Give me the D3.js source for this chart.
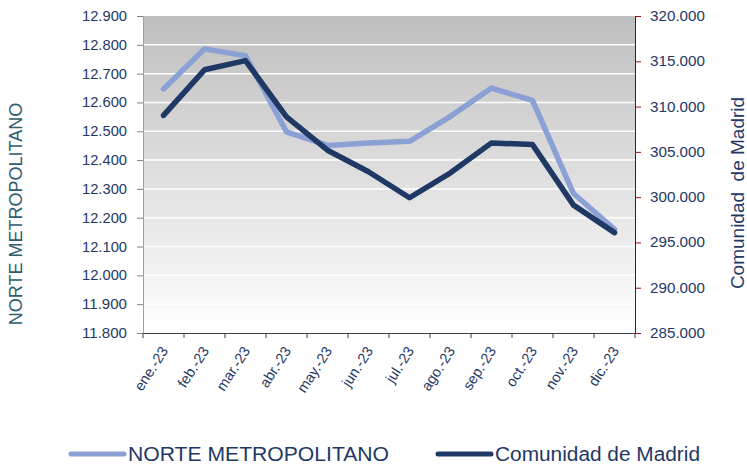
<!DOCTYPE html>
<html>
<head>
<meta charset="utf-8">
<script src="https://cdn.jsdelivr.net/npm/d3@7"></script>
<style>
  body { margin: 0; background: #fff; }
  text { font-family: "Liberation Sans", Arial, sans-serif; }
</style>
</head>
<body>
<svg id="chart" width="747" height="468"></svg>
<script>
var months = ["ene.-23", "feb.-23", "mar.-23", "abr.-23", "may.-23", "jun.-23",
              "jul.-23", "ago.-23", "sep.-23", "oct.-23", "nov.-23", "dic.-23"];
var norteValues = [12647, 12786, 12762, 12498, 12451, 12459, 12465, 12552, 12650, 12607, 12284, 12160];
var madridValues = [309030, 314060, 315080, 308850, 305180, 302800, 299930, 302690, 305990, 305800, 299120, 296080];
var leftTicks = [11800, 11900, 12000, 12100, 12200, 12300, 12400, 12500, 12600, 12700, 12800, 12900];
var rightTicks = [285000, 290000, 295000, 300000, 305000, 310000, 315000, 320000];

var svg = d3.select("#chart");
var pLeft = 143, pRight = 635, pTop = 16, pBottom = 333;

// 12900 -> "12.900", 320000 -> "320.000"
var fmtDots = function (v) { return d3.format(",")(v).replace(/,/g, "."); };

var x = d3.scaleBand().domain(months).range([pLeft, pRight]);
var yL = d3.scaleLinear().domain([11800, 12900]).range([pBottom, pTop]);
var yR = d3.scaleLinear().domain([285000, 320000]).range([pBottom, pTop]);

// plot background gradient
var defs = svg.append("defs");
var grad = defs.append("linearGradient").attr("id", "bg").attr("x1", 0).attr("y1", 0).attr("x2", 0).attr("y2", 1);
grad.append("stop").attr("offset", "0%").attr("stop-color", "#bebebe");
grad.append("stop").attr("offset", "100%").attr("stop-color", "#ffffff");

svg.append("rect")
  .attr("x", pLeft).attr("y", pTop)
  .attr("width", pRight - pLeft).attr("height", pBottom - pTop)
  .attr("fill", "url(#bg)");

// gridlines
svg.append("g").selectAll("line")
  .data(leftTicks.slice(1, -1))
  .enter().append("line")
  .attr("x1", pLeft).attr("x2", pRight)
  .attr("y1", d => yL(d)).attr("y2", d => yL(d))
  .attr("stroke", "#ffffff").attr("stroke-width", 1.5);

// left axis
var gL = svg.append("g").attr("transform", "translate(" + pLeft + ",0)")
  .call(d3.axisLeft(yL).tickValues(leftTicks).tickFormat(fmtDots).tickSize(6).tickSizeOuter(0));
gL.select(".domain").attr("stroke", "#a0a0a0");
gL.selectAll(".tick line").attr("stroke", "#808080");
gL.selectAll("text").attr("fill", "#1f3864").style("font-size", "14px").attr("x", -16)
  .attr("textLength", 45).attr("lengthAdjust", "spacingAndGlyphs");

// right axis
var gR = svg.append("g").attr("transform", "translate(" + pRight + ",0)")
  .call(d3.axisRight(yR).tickValues(rightTicks).tickFormat(fmtDots).tickSize(6).tickSizeOuter(0));
gR.select(".domain").attr("stroke", "#800000");
gR.selectAll(".tick line").attr("stroke", "#a01010");
gR.selectAll("text").attr("fill", "#1f3864").style("font-size", "14px").attr("x", 15)
  .attr("textLength", 55).attr("lengthAdjust", "spacingAndGlyphs");

// bottom axis
var gB = svg.append("g").attr("transform", "translate(0," + pBottom + ")")
  .call(d3.axisBottom(x).tickSize(0));
gB.select(".domain").attr("stroke", "#404040").attr("stroke-width", 1.2);
gB.selectAll(".tick text").remove();
var edges = months.map((m, i) => pLeft + i * x.step()).concat([pRight]);
gB.selectAll(".edge").data(edges).enter().append("line")
  .attr("class", "edge")
  .attr("x1", d => d).attr("x2", d => d).attr("y1", 0).attr("y2", 5)
  .attr("stroke", "#404040");
gB.selectAll(".lbl").data(months).enter().append("text")
  .attr("class", "lbl")
  .attr("transform", d => "translate(" + (x(d) + x.bandwidth() / 2 + 1) + ",15) rotate(-57)")
  .attr("text-anchor", "end")
  .attr("dy", "0.35em")
  .attr("fill", "#1f3864")
  .style("font-size", "14.5px")
  .text(d => d);

// lines
var lineL = d3.line().x((d, i) => x(months[i]) + x.bandwidth() / 2).y(d => yL(d));
var lineR = d3.line().x((d, i) => x(months[i]) + x.bandwidth() / 2).y(d => yR(d));

svg.append("path").datum(norteValues)
  .attr("d", lineL).attr("fill", "none")
  .attr("stroke", "#8ba0d4").attr("stroke-width", 5.5)
  .attr("stroke-linejoin", "round").attr("stroke-linecap", "round");

svg.append("path").datum(madridValues)
  .attr("d", lineR).attr("fill", "none")
  .attr("stroke", "#1f3864").attr("stroke-width", 5.5)
  .attr("stroke-linejoin", "round").attr("stroke-linecap", "round");

// axis titles
svg.append("text")
  .attr("transform", "translate(22,214) rotate(-90)")
  .attr("text-anchor", "middle")
  .attr("fill", "#2e5d6e")
  .style("font-size", "18px")
  .text("NORTE METROPOLITANO");

svg.append("text")
  .attr("transform", "translate(744,193) rotate(-90)")
  .attr("text-anchor", "middle")
  .attr("fill", "#1f3864")
  .style("font-size", "19px")
  .style("white-space", "pre")
  .text("Comunidad  de Madrid");

// legend
var legend = [
  { name: "NORTE METROPOLITANO", color: "#8ba0d4", x: 71, w: 261 },
  { name: "Comunidad de Madrid", color: "#1f3864", x: 438, w: 205 }
];
var lg = svg.append("g").selectAll("g").data(legend).enter().append("g")
  .attr("transform", d => "translate(" + d.x + ",454)");
lg.append("line").attr("x1", 0).attr("x2", 53).attr("y1", 0).attr("y2", 0)
  .attr("stroke", d => d.color).attr("stroke-width", 5).attr("stroke-linecap", "round");
lg.append("text").attr("x", 57).attr("dy", "0.35em")
  .attr("fill", "#1f3864").style("font-size", "20px")
  .attr("textLength", d => d.w).attr("lengthAdjust", "spacingAndGlyphs")
  .text(d => d.name);
</script>
</body>
</html>
